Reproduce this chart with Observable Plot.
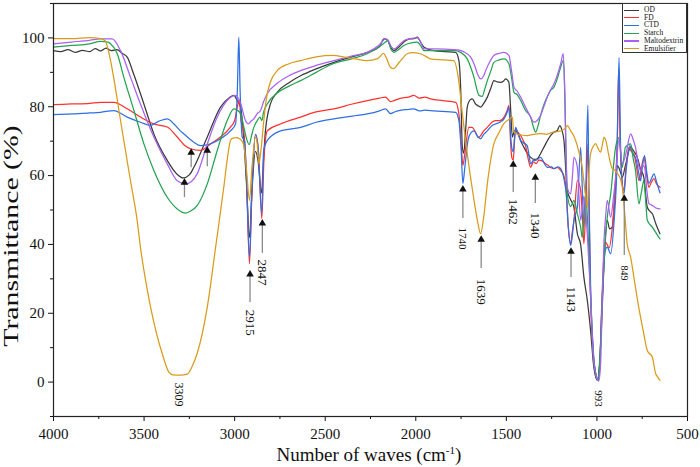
<!DOCTYPE html>
<html><head><meta charset="utf-8">
<script src="https://cdn.jsdelivr.net/npm/d3@7"></script>
<script src="https://cdn.jsdelivr.net/npm/@observablehq/plot@0.6"></script>
<style>
body{margin:0;background:#fff;}
#wrap{position:relative;width:700px;height:467px;font-family:"Liberation Serif","Times New Roman",serif;color:#111;}
.ov{position:absolute;white-space:nowrap;line-height:1;}
#legend{position:absolute;left:622px;top:3px;width:63px;height:48px;border:1px solid #333;background:#fff;font-size:7.5px;}
#legend .row{position:absolute;left:1px;height:8px;}
#legend .sw{position:absolute;left:0;top:3.5px;width:15px;height:1.3px;}
#legend .lb{position:absolute;left:20px;top:0;line-height:8px;}
</style></head><body><div id="wrap"></div>
<script>
// ---- data: [wavenumber (cm-1), transmittance (%)] ----
const OD = [[4000,96.3],[3960,96.0],[3920,96.6],[3880,95.8],[3840,96.4],[3800,96.0],[3770,96.9],[3740,96.2],[3710,97.0],[3680,96.3],[3650,96.6],[3620,95.5],[3593,94.4],[3558,89.6],[3501,80.8],[3446,72.1],[3372,64.4],[3320,60.5],[3285,59.3],[3250,60.2],[3225,62.4],[3151,71.2],[3078,79.9],[3030,82.6],[3004,83.3],[2986,81.8],[2967,79.9],[2949,70.2],[2935,58],[2918,42],[2905,55],[2885,67],[2870,64],[2852,55],[2840,65],[2830,73],[2802,80.9],[2765,84.2],[2700,87],[2636,89],[2550,91],[2452,92.9],[2350,94.5],[2268,95.8],[2200,97.5],[2176,99.7],[2157,99.4],[2135,97],[2121,96.3],[2090,97.5],[2066,98.8],[2035,99.7],[2010,99.8],[1992,100.2],[1970,98.5],[1955,97.3],[1900,96.3],[1840,96],[1780,95.8],[1762,93.4],[1752,85],[1743,68.2],[1735,66.5],[1725,73],[1716,79.9],[1700,82],[1688,82.3],[1670,80.8],[1660,80.4],[1642,79.9],[1625,81],[1605,82.8],[1585,85.5],[1569,87.6],[1550,87.2],[1532,87.1],[1515,87.5],[1504,88.1],[1486,87.1],[1477,79.9],[1467,71.2],[1455,73],[1440,72.6],[1420,70],[1403,68.2],[1385,66.5],[1366,65.3],[1345,64.7],[1329,64.9],[1310,66.5],[1293,68.2],[1256,71.6],[1240,72.5],[1219,73.1],[1205,74.5],[1195,73.5],[1182,70.2],[1164,55.7],[1145,53],[1127,50.8],[1108,43.1],[1090,40],[1072,30.5],[1053,23.7],[1035,15],[1017,4.3],[998,0.5],[980,10.1],[960,35],[943,47],[930,44.5],[915,45],[900,55],[887,62.9],[870,61],[860,59.5],[843,62.9],[814,68.2],[795,67],[777,65.3],[760,62],[741,59.5],[722,50.8],[705,49.5],[694,48.9],[675,46],[652,43.1]];
const FD = [[4000,80.6],[3900,80.8],[3800,81.0],[3740,81.3],[3667,81.3],[3593,79.4],[3520,77],[3446,75],[3372,74.1],[3317,71.2],[3270,68.5],[3244,67.8],[3188,67.3],[3133,69.2],[3078,71.2],[3023,74.1],[3000,76],[2985,80],[2975,82],[2965,76],[2950,73],[2935,60],[2918,34.4],[2905,55],[2885,72],[2870,68],[2850,47.5],[2838,65],[2820,73],[2747,75],[2636,77],[2550,78.5],[2452,79.4],[2350,80.8],[2268,81.8],[2200,82.5],[2167,82.8],[2140,81.5],[2121,81.8],[2080,82.5],[2040,82.8],[2011,83.3],[1980,82.5],[1950,82.8],[1918,82.3],[1850,81.8],[1780,81.3],[1762,77.9],[1750,70],[1740,63],[1730,66],[1707,74],[1690,74],[1670,72.6],[1655,71],[1642,71.6],[1625,73],[1605,74],[1580,75.5],[1560,76],[1535,76],[1513,77],[1495,79],[1486,80.4],[1477,70],[1470,65.3],[1462,64.5],[1455,70],[1449,73.6],[1435,72.5],[1421,71.6],[1405,70],[1394,68.7],[1380,65],[1366,62.4],[1350,64],[1335,63.5],[1320,64.5],[1300,64.2],[1285,63.5],[1270,63],[1256,62.4],[1240,62],[1219,62.4],[1200,61.5],[1180,59.5],[1170,56],[1158,45],[1145,40.2],[1135,44],[1127,46.9],[1108,58.5],[1090,55.7],[1080,48],[1072,40.2],[1062,50],[1050,69.2],[1045,55],[1035,25],[1020,8],[1005,2],[995,0.5],[985,4],[975,20],[960,38],[952,40.6],[933,39],[915,45],[897,58.5],[888,70],[880,91],[872,70],[866,62.4],[851,55.7],[840,62],[823,68.2],[810,67],[796,66.3],[780,62],[768,58.5],[755,62],[741,65.3],[725,60],[713,56.6],[700,58],[685,59.1],[670,57.5],[652,56.6]];
const CTD = [[4000,77.7],[3900,77.9],[3800,78.2],[3740,78.4],[3667,78.9],[3593,77],[3520,75.5],[3464,74.6],[3430,75.5],[3409,76],[3372,76.5],[3335,75],[3300,73],[3280,72.1],[3225,69.7],[3188,68.7],[3133,69.2],[3078,70.7],[3023,73],[2995,75],[2985,85],[2977,100.2],[2970,85],[2958,71.2],[2945,70],[2935,60],[2918,36.3],[2905,55],[2885,72],[2870,68],[2850,48.9],[2840,67.3],[2820,70.2],[2747,73],[2636,74],[2550,75.5],[2452,76.5],[2350,77.3],[2268,77.9],[2200,78.8],[2167,79.4],[2140,78],[2121,78.4],[2080,79],[2040,79.2],[2011,79.4],[1980,78.8],[1950,79],[1900,78.8],[1780,78.4],[1762,76],[1750,68],[1740,57.7],[1730,62],[1712,70.2],[1695,72.5],[1679,73],[1660,71.5],[1642,70.7],[1625,72],[1605,73],[1580,74.5],[1560,75],[1535,75.5],[1513,76.5],[1495,78.5],[1486,79.9],[1477,72],[1470,68],[1462,67],[1455,71],[1449,74],[1435,72],[1421,70.2],[1405,69.5],[1385,68.7],[1375,66],[1366,63.4],[1350,64.5],[1338,64.4],[1311,65.3],[1290,63.5],[1274,62.4],[1250,62.5],[1237,62],[1215,62.5],[1200,62],[1180,58.5],[1170,55],[1158,45],[1145,39.7],[1135,43],[1127,47],[1108,50.8],[1090,68.2],[1080,55],[1072,45],[1062,55],[1050,80.4],[1045,58],[1035,28],[1020,9],[1005,2],[995,0.5],[985,5],[970,25],[955,38],[943,39.2],[924,37.3],[905,47],[890,62.4],[878,94.3],[870,70],[866,62.4],[851,54.7],[838,62],[818,68.7],[800,66],[787,65.3],[770,61],[759,58.5],[750,62],[737,65.8],[725,61],[713,57.7],[700,59],[685,60.5],[670,58],[652,55]];
const Starch = [[4000,97.3],[3900,97.8],[3800,98.3],[3740,99.0],[3700,98.8],[3685,98.3],[3648,95.4],[3612,88.6],[3556,78.9],[3501,69.2],[3446,61.5],[3372,53.7],[3317,50.3],[3271,49.1],[3240,49.8],[3207,51.3],[3151,57.6],[3096,67.3],[3041,76],[3004,79.4],[2986,79],[2967,78],[2949,74],[2936,71],[2920,69],[2905,72],[2894,74],[2875,76],[2860,77],[2850,76],[2840,78.5],[2820,80.8],[2765,84],[2700,86],[2636,87.6],[2550,90],[2470,92.2],[2350,94],[2268,95.4],[2200,97.5],[2167,98.8],[2157,99.2],[2135,96.5],[2121,95.8],[2090,96.8],[2066,97.8],[2030,98.5],[1992,98.8],[1970,97.5],[1955,96.3],[1900,96.3],[1780,96.3],[1753,95.8],[1716,93.9],[1697,91.5],[1679,88.6],[1660,84.5],[1651,83.3],[1633,83],[1620,85],[1605,87.6],[1585,90.5],[1569,92.9],[1540,93.6],[1513,93.9],[1486,92.5],[1470,88],[1458,84.2],[1440,83.5],[1421,81.8],[1394,78.9],[1366,77],[1350,74],[1338,72.6],[1325,74.5],[1311,77.5],[1290,81],[1274,83],[1255,84.8],[1237,85.7],[1220,88],[1200,91.5],[1186,93.4],[1178,85],[1172,70],[1164,54.7],[1145,51],[1127,52.8],[1108,48.9],[1090,45],[1081,42],[1072,48],[1062,54.7],[1050,45],[1035,25],[1020,8],[1005,2],[995,0.5],[985,5],[970,25],[952,43],[938,50],[924,54.7],[910,62],[897,68.2],[878,71],[860,62.4],[843,68.2],[814,69.2],[800,65],[787,61.5],[768,51.8],[755,55],[741,58.5],[730,52],[722,47],[694,45],[670,43],[652,41.6]];
const Maltodextrin = [[4000,98.3],[3900,98.8],[3800,99.3],[3740,99.7],[3676,99.7],[3630,96.3],[3575,88.6],[3520,80.8],[3446,71.2],[3372,63.4],[3317,58.5],[3271,57.6],[3240,58.2],[3207,60.5],[3151,69.2],[3096,77],[3032,82.3],[2995,83.3],[2967,81],[2940,76],[2925,75],[2910,75.8],[2894,76.5],[2875,78],[2857,78.9],[2840,81.5],[2820,83.8],[2765,86.8],[2700,89],[2636,90.5],[2550,92],[2452,93.4],[2350,94.8],[2268,95.8],[2200,98],[2167,99.7],[2157,99.6],[2135,97.5],[2121,96.8],[2090,98],[2066,99.2],[2030,99.8],[1992,100],[1970,98.5],[1955,96.8],[1900,96.8],[1770,96.5],[1737,96],[1697,94.4],[1675,92],[1660,89.6],[1642,88.1],[1625,89],[1614,90.5],[1590,93.2],[1569,94.9],[1540,95.5],[1513,95.8],[1486,94.9],[1470,90],[1458,85.7],[1440,84.5],[1421,82.8],[1394,79.9],[1366,77],[1348,75.5],[1330,76],[1311,77.5],[1290,80.5],[1274,82.8],[1255,85],[1237,86.7],[1220,89],[1200,92.5],[1186,95.4],[1178,85],[1172,70],[1164,56.6],[1145,54.7],[1135,60],[1127,65.3],[1108,62.4],[1090,47],[1081,50],[1072,54],[1062,50],[1050,40],[1035,25],[1020,8],[1005,2],[990,0.3],[980,5],[970,25],[961,41],[952,48],[943,52.8],[924,47.9],[910,53],[897,59.5],[878,70.7],[860,63.4],[838,66.8],[814,72.1],[800,70.5],[787,68.2],[770,63],[759,61.5],[748,63],[737,62.4],[725,56],[713,51.8],[700,51.5],[685,51],[670,50.5],[652,50.3]];
const Emulsifier = [[4000,99.8],[3900,99.8],[3800,100.1],[3740,99.8],[3715,99.2],[3685,93.4],[3660,86],[3630,76],[3575,58.5],[3538,46.9],[3520,39.2],[3464,21.8],[3400,8.3],[3363,2.9],[3340,2.1],[3300,2.0],[3262,2.3],[3235,4.5],[3207,8.3],[3151,21.8],[3105,39.2],[3060,56.6],[3040,65],[3023,70.2],[3013,70.8],[2990,71],[2967,70.5],[2950,69],[2935,62],[2918,52.8],[2905,62],[2885,71.2],[2875,69],[2866,63.4],[2854,67.7],[2839,76],[2820,83.8],[2765,90.5],[2700,92.5],[2636,93.4],[2550,94.5],[2454,94.9],[2400,94.5],[2343,94],[2270,93.4],[2210,94],[2178,95.5],[2165,94.5],[2140,91.5],[2122,91.1],[2090,93],[2047,95.4],[2020,95.7],[1975,95.4],[1940,94.5],[1918,93.9],[1850,93.6],[1791,93.4],[1763,87.6],[1743,78],[1716,66.4],[1681,53.7],[1660,47],[1642,43.1],[1625,48],[1605,57.6],[1569,69.2],[1540,72.5],[1515,75],[1480,76.5],[1467,77],[1460,73],[1440,72],[1420,71.8],[1385,71.6],[1350,72],[1311,72.2],[1280,72],[1250,72.5],[1200,73],[1180,73.5],[1163,74.5],[1145,73],[1128,71.6],[1100,67],[1081,62.4],[1065,55],[1053,50.8],[1045,60],[1035,66.4],[1020,68.5],[1007,69.3],[995,68],[980,66.8],[970,69],[961,71.1],[950,70],[935,66],[915,62],[900,61.5],[887,60.6],[870,59],[860,56.6],[845,48],[833,40.2],[814,36.3],[796,30.5],[770,22],[745,15],[722,9.2],[694,7.2],[676,2.5],[665,1.5],[652,0.5]];

const seriesNames = ["OD","FD","CTD","Starch","Maltodextrin","Emulsifier"];
const seriesColors = ["#3a3a3a","#ff3030","#2f6fe4","#22a450","#a861f0","#d99c1a"];
const seriesData = [OD, FD, CTD, Starch, Maltodextrin, Emulsifier];

// tick values
const xMajor = [4000,3500,3000,2500,2000,1500,1000,500];
const xMinor = [3750,3250,2750,2250,1750,1250,750];
const yMajor = [0,20,40,60,80,100];
const yMinor = [-10,10,30,50,70,90,110];

// peak annotations: wavenumber, arrow bottom, arrow top (in %)
const arrowW = [3277,3240,3151,2915,2847,1740,1639,1462,1340,1143,849];
const arrowLo = [53.6,62.3,62.6,23.1,37.4,47.5,33.0,55.1,51.9,30.4,36.8];
const arrowHi = [58.0,66.7,67.3,31.3,46.1,56.0,41.4,63.2,59.4,37.9,53.3];
// peak labels: wavenumber, top of label (%), text, size
const labelW = [3309,2915,2847,1740,1639,1462,1340,1143,849,993];
const labelY = [-0.1,21.0,35.6,44.9,30.0,53.3,49.3,27.8,33.9,-2.4];
const labelT = ["3309","2915","2847","1740","1639","1462","1340","1143","849","993"];
const labelS = [12,13,13,11,13,13,13,13,10,11];

const arrows = arrowW.map((w,i)=>({w, lo: arrowLo[i], hi: arrowHi[i]}));
const labels = labelW.map((w,i)=>({w, y: labelY[i], t: labelT[i], s: labelS[i]}));
const toRows = arr => arr.map(([w,v])=>({w,v}));

const marks = [];
marks.push(Plot.axisX({ticks: xMajor, tickSize: 5, tickPadding: 7, tickFormat: d => String(d), fontSize: 15, label: null}));
marks.push(Plot.axisX({ticks: xMinor, tickSize: 3, tickFormat: () => "", label: null}));
marks.push(Plot.axisY({ticks: yMajor, tickSize: 5, tickPadding: 4, tickFormat: d => String(d), fontSize: 15, label: null}));
marks.push(Plot.axisY({ticks: yMinor, tickSize: 3, tickFormat: () => "", label: null}));
seriesData.forEach((arr,i)=>{
  marks.push(Plot.line(toRows(arr), {x:"w", y:"v", stroke: seriesColors[i], strokeWidth: 1.25, curve: "monotone-x"}));
});
marks.push(Plot.text(labels, {x:"w", y:"y", text:"t", rotate: 90, textAnchor:"start", fontSize: d => d.s, fill:"#111", stroke:"white", strokeWidth: 3, paintOrder:"stroke"}));
marks.push(Plot.ruleX(arrows, {x:"w", y1:"lo", y2:"hi", stroke:"#8a8a8a", strokeWidth: 1.3}));
marks.push(Plot.dot(arrows, {x:"w", y:"hi", symbol:"triangle", r: 2.8, fill:"#111", stroke:"none"}));
marks.push(Plot.frame({stroke:"#222", strokeWidth: 1.2}));

const chart = Plot.plot({
  width: 700, height: 467,
  marginLeft: 53, marginRight: 13, marginTop: 3, marginBottom: 51,
  style: {fontFamily: '"Liberation Serif","Times New Roman",serif', fontSize: "15px", color: "#111", background: "#fff"},
  x: {domain: [4000, 500]},
  y: {domain: [-10, 110]},
  marks
});
const wrap = document.getElementById("wrap");
wrap.appendChild(chart);

// axis titles
const yt = document.createElement("div");
yt.className = "ov"; yt.textContent = "Transmittance (%)";
yt.style.fontSize = "20px";
wrap.appendChild(yt);
const w0 = yt.offsetWidth, h0 = yt.offsetHeight;
yt.style.left = (11 - w0/2) + "px"; yt.style.top = (236 - h0/2) + "px";
yt.style.transform = `rotate(-90deg) scaleX(${(222/w0).toFixed(3)})`;

const xt = document.createElement("div");
xt.className = "ov"; xt.innerHTML = 'Number of waves (cm<sup style="font-size:11px;vertical-align:7px">-1</sup>)';
xt.style.fontSize = "19px";
wrap.appendChild(xt);
xt.style.left = (369 - xt.offsetWidth/2) + "px"; xt.style.top = (445) + "px";

// legend
const lg = document.createElement("div");
lg.id = "legend";
seriesNames.forEach((n,i)=>{
  const r = document.createElement("div");
  r.className = "row"; r.style.top = (2 + i*7.7) + "px";
  r.innerHTML = `<span class="sw" style="background:${seriesColors[i]}"></span><span class="lb">${n}</span>`;
  lg.appendChild(r);
});
wrap.appendChild(lg);
</script></body></html>
